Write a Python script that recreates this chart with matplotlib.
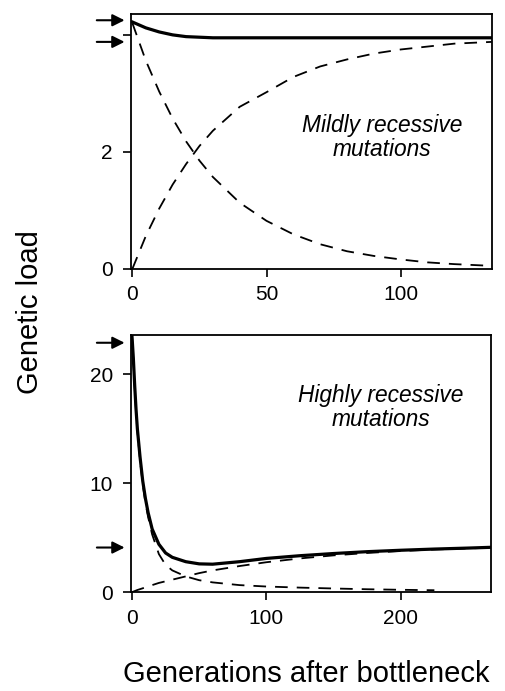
import numpy as np
import matplotlib
matplotlib.use('Agg')
import matplotlib.pyplot as plt
import matplotlib.transforms as mtransforms

plt.rcParams['font.family'] = ['Liberation Sans', 'DejaVu Sans']

# Top panel: mildly recessive mutations
gen_top = [0, 5, 10, 15, 20, 25, 30, 40, 50, 60, 70, 80, 90, 100, 110, 120, 134]
total_top = [4.22, 4.12, 4.05, 4.00, 3.97, 3.96, 3.95, 3.95, 3.95, 3.95, 3.95, 3.95,
             3.95, 3.95, 3.95, 3.95, 3.95]
purged_top = [4.20, 3.56, 3.03, 2.57, 2.18, 1.85, 1.57, 1.13, 0.82, 0.59, 0.42, 0.30,
              0.22, 0.16, 0.11, 0.08, 0.05]
new_top = [0.0, 0.56, 1.03, 1.44, 1.79, 2.10, 2.36, 2.77, 3.02, 3.28, 3.46, 3.58,
           3.68, 3.75, 3.80, 3.85, 3.88]
arrows_top = [4.25, 3.88]

# Bottom panel: highly recessive mutations
gen_bot = [0, 1, 2, 3, 4, 6, 8, 10, 12, 15, 20, 25, 30, 40, 50, 60, 80, 100, 125,
           150, 175, 200, 225, 250, 267]
total_bot = [23.5, 21.5, 19.0, 16.8, 15.0, 12.4, 10.2, 8.6, 7.3, 5.8, 4.4, 3.6, 3.2,
             2.8, 2.6, 2.57, 2.8, 3.1, 3.35, 3.55, 3.72, 3.85, 3.96, 4.05, 4.12]
gen_purged_bot = gen_bot[:23]
purged_bot = [23.5, 21.3, 18.8, 16.6, 14.8, 12.1, 9.9, 8.2, 6.9, 5.3, 3.5, 2.5, 2.0,
              1.45, 1.1, 0.9, 0.65, 0.52, 0.42, 0.34, 0.27, 0.22, 0.18]
new_bot = [0.0, 0.05, 0.1, 0.15, 0.2, 0.28, 0.36, 0.45, 0.53, 0.65, 0.85, 1.0, 1.15,
           1.45, 1.75, 2.0, 2.4, 2.75, 3.1, 3.38, 3.6, 3.78, 3.92, 4.02, 4.08]
arrows_bot = [22.9, 4.1]

fig = plt.figure(figsize=(5.06, 6.91), dpi=100)
ax1 = fig.add_axes([0.259, 0.611, 0.713, 0.369])
ax2 = fig.add_axes([0.259, 0.143, 0.711, 0.372])

dash = (0, (7, 5))


def style(ax):
    for s in ax.spines.values():
        s.set_linewidth(1.3)
    ax.tick_params(direction='out', length=6, width=1.2, labelsize=15)
    ax.tick_params(axis='y', pad=7)
    ax.tick_params(axis='x', pad=6)


def add_arrows(ax, levels):
    trans = mtransforms.blended_transform_factory(ax.transAxes, ax.transData)
    for v in levels:
        ax.annotate('', xy=(-0.018, v), xycoords=trans, xytext=(-0.095, v), textcoords=trans,
                    arrowprops=dict(arrowstyle='-|>', color='black', lw=1.5,
                                    mutation_scale=18, shrinkA=0, shrinkB=0),
                    annotation_clip=False)


ax1.plot(gen_top, purged_top, color='black', lw=1.3, linestyle=dash)
ax1.plot(gen_top, new_top, color='black', lw=1.3, linestyle=dash)
ax1.plot(gen_top, total_top, color='black', lw=2.3)
ax1.set_xlim(-0.5, 134)
ax1.set_ylim(0, 4.36)
ax1.set_xticks([0, 50, 100])
ax1.set_yticks([0, 2, 4])
ax1.set_yticklabels(['0', '2', ''])
style(ax1)
add_arrows(ax1, arrows_top)
ax1.text(0.695, 0.516, 'Mildly recessive\nmutations', transform=ax1.transAxes,
         ha='center', va='center', style='italic', fontsize=16.4, linespacing=1.05)

ax2.plot(gen_purged_bot, purged_bot, color='black', lw=1.3, linestyle=dash)
ax2.plot(gen_bot, new_bot, color='black', lw=1.3, linestyle=dash)
ax2.plot(gen_bot, total_bot, color='black', lw=2.3)
ax2.set_xlim(-0.7, 267)
ax2.set_ylim(0, 23.6)
ax2.set_xticks([0, 100, 200])
ax2.set_yticks([0, 10, 20])
style(ax2)
add_arrows(ax2, arrows_bot)
ax2.text(0.695, 0.72, 'Highly recessive\nmutations', transform=ax2.transAxes,
         ha='center', va='center', style='italic', fontsize=16.4, linespacing=1.05)

fig.text(0.059, 0.548, 'Genetic load', rotation=90, ha='center', va='center', fontsize=21)
fig.text(0.605, 0.013, 'Generations after bottleneck', ha='center', va='baseline', fontsize=21)

fig.savefig('out.png', dpi=100)
